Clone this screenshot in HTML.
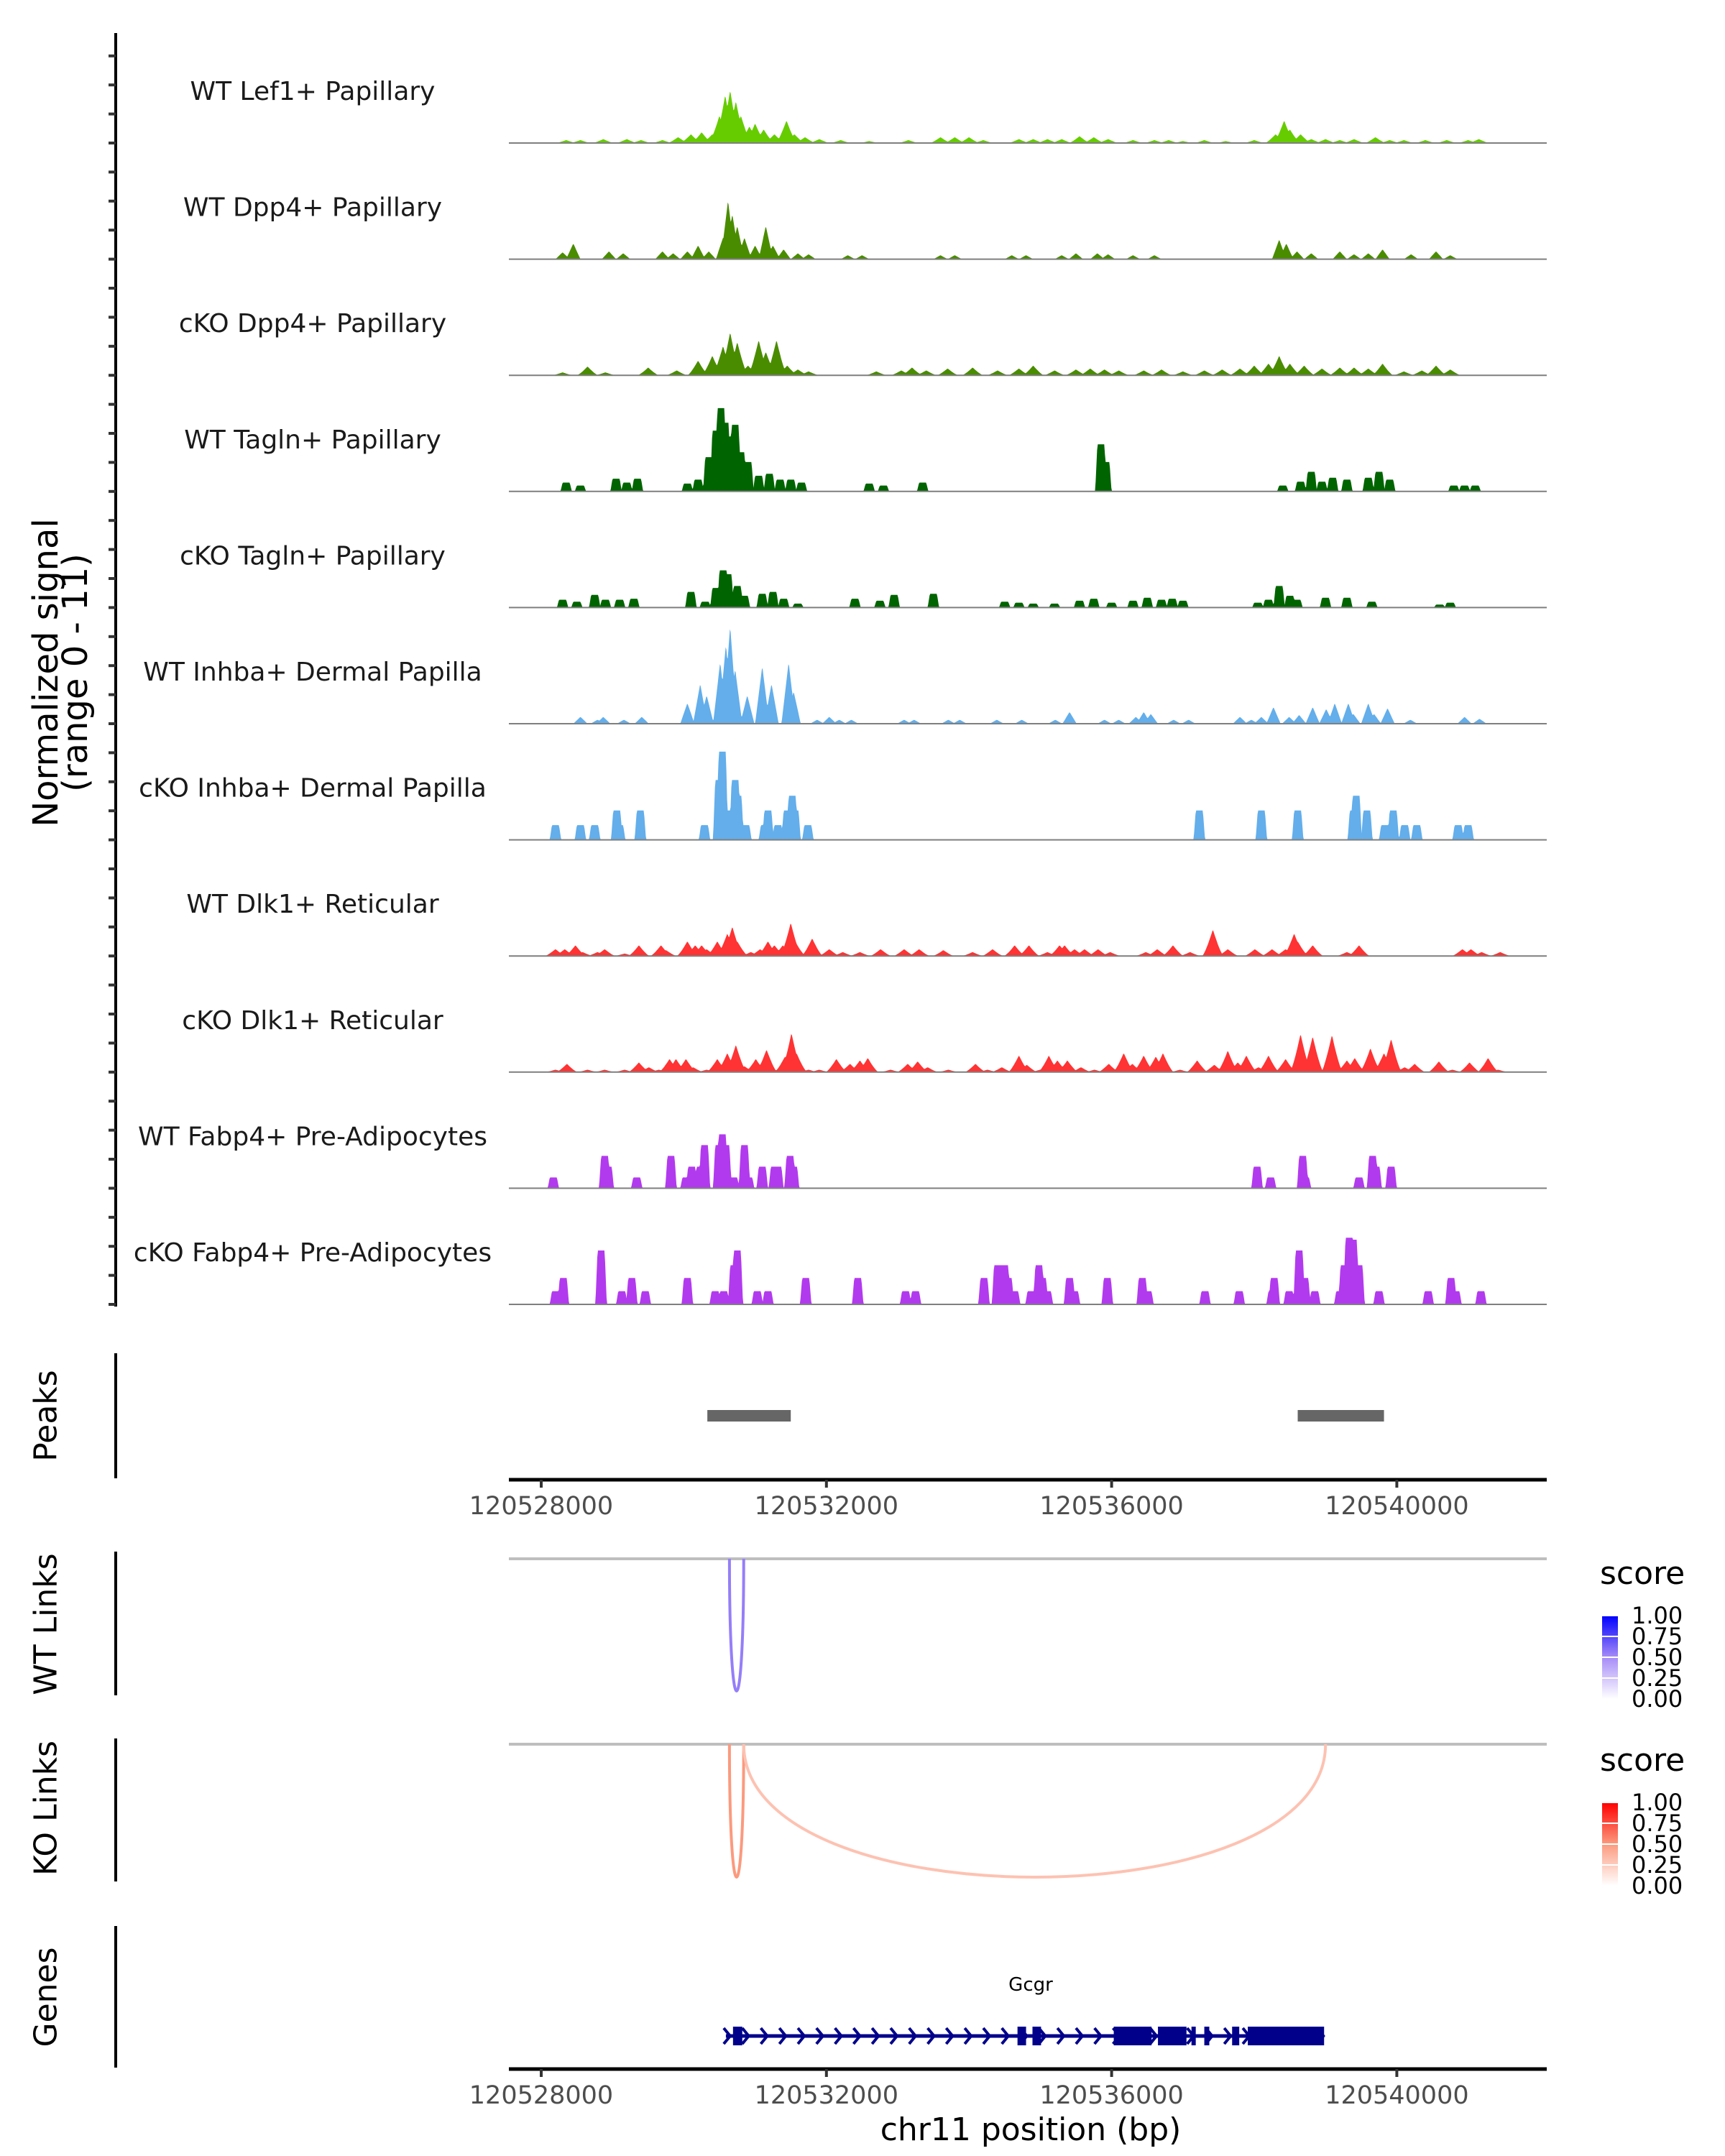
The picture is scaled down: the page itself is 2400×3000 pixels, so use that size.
<!DOCTYPE html>
<html><head><meta charset="utf-8">
<style>
html,body{margin:0;padding:0;background:#fff;}
svg{display:block;font-family:"DejaVu Sans","Liberation Sans",sans-serif;}
</style></head>
<body>
<svg id="chart" width="2400" height="3000" viewBox="0 0 2400 3000" xmlns="http://www.w3.org/2000/svg">
<defs>
<linearGradient id="gradWT" x1="0" y1="0" x2="0" y2="1"><stop offset="0" stop-color="#0000ff"/><stop offset="0.5" stop-color="#a68cf7"/><stop offset="1" stop-color="#ffffff"/></linearGradient>
<linearGradient id="gradKO" x1="0" y1="0" x2="0" y2="1"><stop offset="0" stop-color="#ff0000"/><stop offset="0.5" stop-color="#fb9a7e"/><stop offset="1" stop-color="#ffffff"/></linearGradient>
</defs>
<g id="tracks"></g>
<g id="axes"></g>
</svg>
<script>
// ---------- data (kb offsets relative to 120528000) ----------
const trackNames = ["WT Lef1+ Papillary","WT Dpp4+ Papillary","cKO Dpp4+ Papillary","WT Tagln+ Papillary","cKO Tagln+ Papillary","WT Inhba+ Dermal Papilla","cKO Inhba+ Dermal Papilla","WT Dlk1+ Reticular","cKO Dlk1+ Reticular","WT Fabp4+ Pre-Adipocytes","cKO Fabp4+ Pre-Adipocytes"];
const trackColors = ["#66cc00","#4a8c00","#4a8c00","#006400","#006400","#63aeeb","#63aeeb","#ff3333","#ff3333","#b23aee","#b23aee"];

const pos0 = [0.35,0.55,0.87,1.2,1.4,1.7,1.92,2.1,2.25,2.4,2.5,2.58,2.65,2.73,2.8,2.92,3.0,3.12,3.27,3.44,3.55,3.7,3.9,4.2,4.6,5.15,5.6,5.8,6.0,6.2,6.7,6.9,7.1,7.3,7.55,7.75,7.95,8.3,8.6,8.8,9.0,9.3,9.6,10.0,10.3,10.42,10.5,10.65,10.8,11.0,11.2,11.4,11.7,11.9,12.1,12.4,12.7,13.0,13.15];
const val0 = [0.3,0.3,0.4,0.4,0.3,0.3,0.6,0.9,1.1,0.9,2.8,4.9,5.4,4.3,2.8,1.7,2.0,1.4,0.9,2.3,0.9,0.6,0.4,0.3,0.2,0.3,0.6,0.6,0.6,0.3,0.4,0.4,0.4,0.4,0.7,0.6,0.4,0.3,0.3,0.3,0.2,0.3,0.2,0.3,0.9,2.3,1.4,0.9,0.4,0.4,0.3,0.4,0.6,0.3,0.3,0.3,0.3,0.3,0.4];
const pos1 = [0.3,0.45,0.95,1.15,1.7,1.85,2.05,2.2,2.35,2.55,2.62,2.68,2.75,2.85,3.0,3.15,3.25,3.4,3.6,3.75,4.3,4.5,5.6,5.8,6.6,6.8,7.3,7.5,7.8,7.95,8.3,8.6,10.35,10.45,10.6,10.8,11.2,11.4,11.6,11.8,12.2,12.55,12.75];
const val1 = [0.7,1.6,0.8,0.6,0.8,0.6,0.8,1.4,0.8,2.2,6.0,4.6,3.4,2.2,1.4,3.4,1.4,1.0,0.6,0.5,0.4,0.4,0.4,0.4,0.4,0.4,0.4,0.6,0.6,0.5,0.4,0.4,2.0,1.6,0.8,0.6,0.8,0.5,0.6,1.0,0.5,0.8,0.4];
const pos2 = [0.3,0.65,0.9,1.5,1.9,2.2,2.4,2.55,2.65,2.75,2.9,3.05,3.15,3.3,3.45,3.6,3.75,4.7,5.05,5.2,5.4,5.7,6.05,6.4,6.7,6.9,7.2,7.5,7.7,7.9,8.1,8.45,8.7,9.0,9.3,9.55,9.8,10.0,10.2,10.35,10.5,10.7,10.95,11.2,11.4,11.6,11.8,12.1,12.35,12.55,12.75];
const val2 = [0.3,0.9,0.3,0.8,0.5,1.5,2.0,3.0,4.4,3.4,1.0,3.6,2.4,3.6,1.0,0.6,0.4,0.4,0.5,0.8,0.5,0.7,0.8,0.5,0.7,1.0,0.5,0.6,0.7,0.6,0.5,0.5,0.6,0.4,0.5,0.6,0.7,1.0,1.2,2.0,1.2,1.0,0.7,0.8,0.8,0.7,1.2,0.4,0.5,1.0,0.6];
const pos3 = [0.35,0.55,1.05,1.2,1.35,2.05,2.2,2.35,2.45,2.52,2.58,2.66,2.72,2.8,2.9,3.05,3.2,3.35,3.5,3.65,4.6,4.8,5.35,7.85,7.92,10.4,10.65,10.8,10.95,11.1,11.3,11.6,11.75,11.9,12.8,12.95,13.1];
const val3 = [0.9,0.6,1.3,0.9,1.3,0.8,1.2,3.5,6.2,8.5,7.0,5.6,6.8,4.0,3.0,1.6,1.8,1.2,1.2,0.9,0.8,0.6,0.9,4.8,3.0,0.6,1.0,2.0,1.0,1.4,1.2,1.4,2.0,1.2,0.6,0.6,0.6];
const pos4 = [0.3,0.5,0.75,0.9,1.1,1.3,2.1,2.3,2.45,2.55,2.62,2.75,2.85,3.1,3.25,3.4,3.6,4.4,4.75,4.95,5.5,6.5,6.7,6.9,7.2,7.55,7.75,8.0,8.3,8.5,8.7,8.85,9.0,10.05,10.2,10.35,10.5,10.6,11.0,11.3,11.65,12.6,12.75];
const val4 = [0.8,0.6,1.3,0.8,0.8,0.9,1.6,0.6,2.0,3.8,3.4,2.2,1.2,1.4,1.6,0.9,0.4,0.9,0.7,1.3,1.4,0.6,0.5,0.4,0.4,0.7,0.9,0.5,0.7,1.0,0.8,0.9,0.7,0.5,0.8,2.2,1.2,0.8,1.0,1.0,0.6,0.3,0.5];
const pos5 = [0.55,0.79,0.87,1.16,1.41,2.05,2.23,2.32,2.51,2.59,2.65,2.72,2.89,3.10,3.23,3.47,3.54,3.87,4.04,4.18,4.35,5.09,5.23,5.71,5.87,6.39,6.74,7.21,7.41,7.90,8.10,8.34,8.45,8.55,8.87,9.08,9.80,9.96,10.10,10.27,10.49,10.63,10.82,11.01,11.13,11.32,11.39,11.60,11.68,11.87,12.19,12.95,13.16];
const val5 = [0.7,0.4,0.7,0.4,0.7,2.1,4.1,2.9,6.3,8.1,10.0,5.6,2.9,5.9,4.1,6.3,3.3,0.4,0.7,0.4,0.4,0.4,0.4,0.4,0.4,0.4,0.4,0.4,1.2,0.4,0.4,0.7,1.2,1.0,0.4,0.4,0.7,0.4,0.7,1.7,0.7,0.9,1.7,1.5,2.1,2.1,1.0,2.1,1.0,1.6,0.4,0.7,0.5];
const pos6 = [0.20,0.55,0.75,1.06,1.10,1.39,2.29,2.49,2.54,2.61,2.72,2.76,2.87,3.13,3.18,3.32,3.45,3.52,3.56,3.74,9.23,10.10,10.61,11.39,11.43,11.58,11.83,11.95,12.11,12.28,12.86,13.0];
const val6 = [1.5,1.5,1.5,3.0,1.5,3.0,1.5,6.1,9.0,3.0,6.1,4.5,1.5,1.5,3.0,1.5,3.0,4.5,3.0,1.5,3.0,3.0,3.0,3.0,4.5,3.0,1.5,3.0,1.5,1.5,1.5,1.5];
const pos7 = [0.20,0.33,0.48,0.58,0.79,0.89,1.17,1.37,1.68,1.75,2.05,2.16,2.25,2.32,2.47,2.61,2.68,2.75,2.94,3.07,3.18,3.27,3.39,3.50,3.56,3.80,4.04,4.23,4.47,4.76,5.09,5.30,5.64,6.05,6.33,6.64,6.84,7.10,7.27,7.34,7.48,7.62,7.81,7.98,8.48,8.64,8.86,9.10,9.42,9.63,10.01,10.25,10.44,10.56,10.61,10.82,11.30,11.47,12.92,13.04,13.19,13.45];
const val7 = [0.7,0.7,1.1,0.4,0.4,0.7,0.25,1.1,1.1,0.6,1.5,1.1,1.1,0.7,1.5,2.3,3.0,1.5,0.4,0.7,1.5,1.1,1.1,3.4,1.5,1.8,0.7,0.4,0.4,0.7,0.7,0.7,0.6,0.4,0.7,1.1,1.1,0.4,1.1,1.1,0.7,0.7,0.7,0.4,0.4,0.7,1.1,0.4,2.7,0.7,0.7,0.7,0.7,2.3,1.5,1.1,0.4,1.1,0.7,0.7,0.4,0.4];
const pos8 = [0.20,0.36,0.65,0.89,1.17,1.37,1.51,1.65,1.80,1.89,2.03,2.13,2.32,2.47,2.61,2.73,2.85,3.01,3.16,3.27,3.42,3.51,3.58,3.75,3.90,4.14,4.33,4.47,4.58,4.90,5.14,5.28,5.42,5.71,6.09,6.26,6.46,6.70,6.81,7.00,7.12,7.24,7.38,7.57,7.76,7.96,8.17,8.29,8.45,8.62,8.72,8.96,9.20,9.44,9.63,9.77,9.89,10.06,10.20,10.44,10.65,10.82,10.92,11.09,11.30,11.41,11.63,11.82,11.92,12.11,12.25,12.59,12.78,13.02,13.28,13.42];
const val8 = [0.25,0.85,0.25,0.25,0.25,1.0,0.5,0.25,1.35,1.35,1.35,0.5,0.25,1.35,1.95,2.8,0.6,1.35,2.3,0.25,1.6,4.0,1.95,0.25,0.25,1.35,0.85,1.2,1.45,0.25,0.85,1.1,0.5,0.25,0.85,0.25,0.5,1.7,0.75,0.25,1.7,1.2,1.2,0.5,0.25,0.85,1.95,0.85,1.7,1.6,1.95,0.25,1.2,0.75,2.2,1.0,1.7,0.5,1.7,1.35,3.9,3.65,0.25,3.8,1.2,1.45,2.45,1.95,3.4,0.5,0.85,1.1,0.25,1.0,1.45,0.25];
const pos9 = [0.17,0.89,0.94,1.34,1.82,2.03,2.11,2.23,2.29,2.49,2.54,2.59,2.70,2.85,2.91,3.10,3.27,3.32,3.49,3.54,10.04,10.23,10.68,10.72,11.47,11.66,11.71,11.92];
const val9 = [1.1,3.3,2.2,1.1,3.3,1.1,2.2,2.2,4.4,4.4,5.5,4.4,1.1,4.4,1.1,2.2,2.2,2.2,3.3,2.2,2.2,1.1,3.3,1.1,1.1,3.3,2.2,2.2];
const pos10 = [0.20,0.31,0.84,1.13,1.27,1.46,2.05,2.44,2.56,2.70,2.75,3.03,3.18,3.71,4.44,5.11,5.25,6.21,6.40,6.50,6.55,6.64,6.87,6.98,7.03,7.10,7.41,7.48,7.94,8.43,8.51,9.31,9.79,10.25,10.28,10.49,10.63,10.71,10.85,11.20,11.26,11.33,11.39,11.47,11.75,12.44,12.76,12.83,13.18];
const val10 = [1.35,2.7,5.5,1.35,2.7,1.35,2.7,1.35,1.35,4.0,5.5,1.35,1.35,2.7,2.7,1.35,1.35,2.7,4.0,4.0,2.7,1.35,1.35,4.0,2.7,1.35,2.7,1.35,2.7,2.7,1.35,1.35,1.35,1.35,2.7,1.35,5.5,2.7,1.35,1.35,4.0,6.8,6.6,4.0,1.35,1.35,2.7,1.35,1.35];
const trackPos = [pos0,pos1,pos2,pos3,pos4,pos5,pos6,pos7,pos8,pos9,pos10];
const trackVal = [val0,val1,val2,val3,val4,val5,val6,val7,val8,val9,val10];
const trackShape = ["soft","spike","soft","block","block","spike","block","soft","soft","block","block"];

const xTicks = [120528000,120532000,120536000,120540000];
const peakStarts = [120530330,120538610];
const peakEnds = [120531500,120539820];
const wtLinkStarts = [120530640];
const wtLinkEnds = [120530840];
const wtLinkScores = [0.55];
const koLinkStarts = [120530640,120530840];
const koLinkEnds = [120530840,120539000];
const koLinkScores = [0.5,0.3];
const exonStarts = [2.69,6.68,6.89,8.03,8.65,9.12,9.30,9.69,9.91];
const exonEnds = [2.82,6.80,7.01,8.56,9.05,9.18,9.37,9.79,10.98];
const geneStart = 2.59, geneEnd = 10.98;
const legendTicks = ["1.00","0.75","0.50","0.25","0.00"];

// ---------- scales ----------
const X0 = 753, PXKB = 99.2, AX_L = 708, AX_R = 2152;
function xKb(kb){ return X0 + kb*PXKB; }
function xBp(bp){ return xKb((bp-120528000)/1000); }
const BASE0 = 199, STEP = 161.6, YMAX = 11, HMAX = 150;
function yVal(v, i){ return BASE0 + i*STEP - v/YMAX*HMAX; }

const NS = "http://www.w3.org/2000/svg";
const svg = document.getElementById('chart');
const gT = document.getElementById('tracks');
const gA = document.getElementById('axes');
function mk(tag, attrs, parent){ const e=document.createElementNS(NS,tag); for(const k in attrs) e.setAttribute(k,attrs[k]); (parent||svg).appendChild(e); return e; }

// ---------- tracks ----------
const kbMin = (AX_L - X0)/PXKB, kbMax = (AX_R - X0)/PXKB, BIN = 0.01;
for(let i=0;i<trackNames.length;i++){
  const base = BASE0 + i*STEP;
  const nb = Math.round((kbMax-kbMin)/BIN);
  const arr = new Array(nb+1).fill(0);
  const P = trackPos[i], V = trackVal[i], sh = trackShape[i];
  for(let j=0;j<P.length;j++){
    for(let b=0;b<=nb;b++){
      const k = kbMin + b*BIN, d = Math.abs(k-P[j]);
      let f = 0;
      if(sh==="block"){ f = d<0.05?1:(d<0.08?1-(d-0.05)/0.03:0); }
      else if(sh==="soft"){ f = d<0.15?Math.pow(1-d/0.15,1.3):0; }
      else { f = d<0.1?1-d/0.1:0; }
      const v = V[j]*f;
      if(v>arr[b]) arr[b]=v;
    }
  }
  let d = "M"+xKb(kbMin)+","+base;
  for(let b=0;b<=nb;b++){ d += " L"+xKb(kbMin+b*BIN).toFixed(1)+","+yVal(arr[b],i).toFixed(1); }
  d += " L"+xKb(kbMax)+","+base+" Z";
  const area = mk('path',{d:d,fill:trackColors[i],stroke:'none'},gT);
  
  
  const bl = mk('line',{x1:AX_L,x2:AX_R,y1:base,y2:base,stroke:'#7f7f7f','stroke-width':2},gT);
  
  
  const lab = mk('text',{x:435,y:base-60,'text-anchor':'middle','font-size':36,fill:'#1a1a1a'},gT);
  lab.textContent = trackNames[i];
  
  
}
// left signal axis
const la = mk('line',{x1:161,x2:161,y1:46,y2:1818,stroke:'#000','stroke-width':4},gA);


for(let i=0;i<trackNames.length;i++){
  for(let k=0;k<4;k++){
    const y = BASE0 + i*STEP - k*STEP/4;
    const t = mk('line',{x1:151,x2:161,y1:y,y2:y,stroke:'#333','stroke-width':4},gA);
    
    
  }
}
function vtitle(txt, cx, cy, name, size){
  const t = mk('text',{x:0,y:0,transform:`translate(${cx},${cy}) rotate(-90)`,'text-anchor':'middle','dominant-baseline':'central','font-size':size||44,fill:'#000'},gA);
  t.textContent = txt;
  
  
}
vtitle("Normalized signal",64,936,"y-axis-title-line1",48);
vtitle("(range 0 - 11)",105,936,"y-axis-title-line2",48);

// ---------- peaks ----------
const pa = mk('line',{x1:161,x2:161,y1:1883,y2:2057,stroke:'#000','stroke-width':4},gA);


vtitle("Peaks",64,1970,"peaks-title");
for(let j=0;j<peakStarts.length;j++){
  const r = mk('rect',{x:xBp(peakStarts[j]),y:1962,width:xBp(peakEnds[j])-xBp(peakStarts[j]),height:16,fill:'#666666'},gA);
  
  
}
function xAxis(y, name){
  const l = mk('line',{x1:AX_L,x2:AX_R,y1:y,y2:y,stroke:'#000','stroke-width':5},gA);
  
  
  for(const tv of xTicks){
    const tk = mk('line',{x1:xBp(tv),x2:xBp(tv),y1:y,y2:y+11,stroke:'#333','stroke-width':4},gA);
    
    
    const tl = mk('text',{x:xBp(tv),y:y+48,'text-anchor':'middle','font-size':35,fill:'#4d4d4d'},gA);
    tl.textContent = String(tv);
    
    
  }
}
xAxis(2059,"peaks-x-axis");

// ---------- links ----------
function ramp(stops, s){
  const t = Math.max(0,Math.min(1,s))*(stops.length-1);
  const k = Math.min(stops.length-2, Math.floor(t)), f = t-k;
  const a = stops[k], b = stops[k+1];
  return `rgb(${Math.round(a[0]+(b[0]-a[0])*f)},${Math.round(a[1]+(b[1]-a[1])*f)},${Math.round(a[2]+(b[2]-a[2])*f)})`;
}
const wtRamp = [[255,255,255],[166,140,247],[0,0,255]];
const koRamp = [[255,255,255],[251,154,126],[255,0,0]];
function linkPanel(y0, y1, lineY, starts, ends, scores, stops, title, tcy, legY, grad, nm){
  const al = mk('line',{x1:161,x2:161,y1:y0,y2:y1,stroke:'#000','stroke-width':4},gA);
  
  
  vtitle(title,64,tcy,nm+'-title');
  const gl = mk('line',{x1:AX_L,x2:AX_R,y1:lineY,y2:lineY,stroke:'#bebebe','stroke-width':4},gA);
  
  
  const depth = y1 - 6 - lineY;
  for(let j=0;j<starts.length;j++){
    const xa = xBp(starts[j]), xb = xBp(ends[j]);
    const p = mk('path',{d:`M${xa},${lineY} C${xa},${lineY+depth*1.333} ${xb},${lineY+depth*1.333} ${xb},${lineY}`,fill:'none',stroke:ramp(stops,scores[j]),'stroke-width':4},gA);
    
    
  }
  const st = mk('text',{x:2226,y:legY,'font-size':44,fill:'#000'},gA);
  st.textContent = 'score';
  
  
  const by = legY+44, bh = 116;
  const br = mk('rect',{x:2229,y:by,width:22,height:bh,fill:`url(#${grad})`},gA);
  
  
  for(let k=0;k<legendTicks.length;k++){
    const yy = by + k*bh/4;
    const tk = mk('line',{x1:2229,x2:2251,y1:yy,y2:yy,stroke:'#fff','stroke-width':2},gA);
    
    
    const tl = mk('text',{x:2270,y:yy+11,'font-size':32,fill:'#000'},gA);
    tl.textContent = legendTicks[k];
    
    
  }
}
linkPanel(2159,2359,2169,wtLinkStarts,wtLinkEnds,wtLinkScores,wtRamp,"WT Links",2260,2204,"gradWT","wt-links");
linkPanel(2419,2618,2427,koLinkStarts,koLinkEnds,koLinkScores,koRamp,"KO Links",2516,2464,"gradKO","ko-links");

// ---------- genes ----------
const ga = mk('line',{x1:161,x2:161,y1:2680,y2:2877,stroke:'#000','stroke-width':4},gA);


vtitle("Genes",64,2779,"genes-title");
const gy = 2833;
const gname = mk('text',{x:1434,y:2770,'text-anchor':'middle','font-size':26,fill:'#000'},gA);
gname.textContent = 'Gcgr';


const gl2 = mk('line',{x1:xKb(geneStart),x2:xKb(geneEnd),y1:gy,y2:gy,stroke:'#00008b','stroke-width':5},gA);


for(let k=geneStart+0.02;k<geneEnd;k+=0.26){
  const x = xKb(k);
  const c = mk('path',{d:`M${x-5},${gy-11} L${x+4},${gy} L${x-5},${gy+11}`,fill:'none',stroke:'#00008b','stroke-width':4},gA);
  
  
}
for(let j=0;j<exonStarts.length;j++){
  const r = mk('rect',{x:xKb(exonStarts[j]),y:gy-13,width:xKb(exonEnds[j])-xKb(exonStarts[j]),height:26,fill:'#00008b'},gA);
  
  
}
xAxis(2879,"genes-x-axis");
const xt = mk('text',{x:1434,y:2978,'text-anchor':'middle','font-size':44,fill:'#000'},gA);
xt.textContent = 'chr11 position (bp)';


</script>
</body></html>
